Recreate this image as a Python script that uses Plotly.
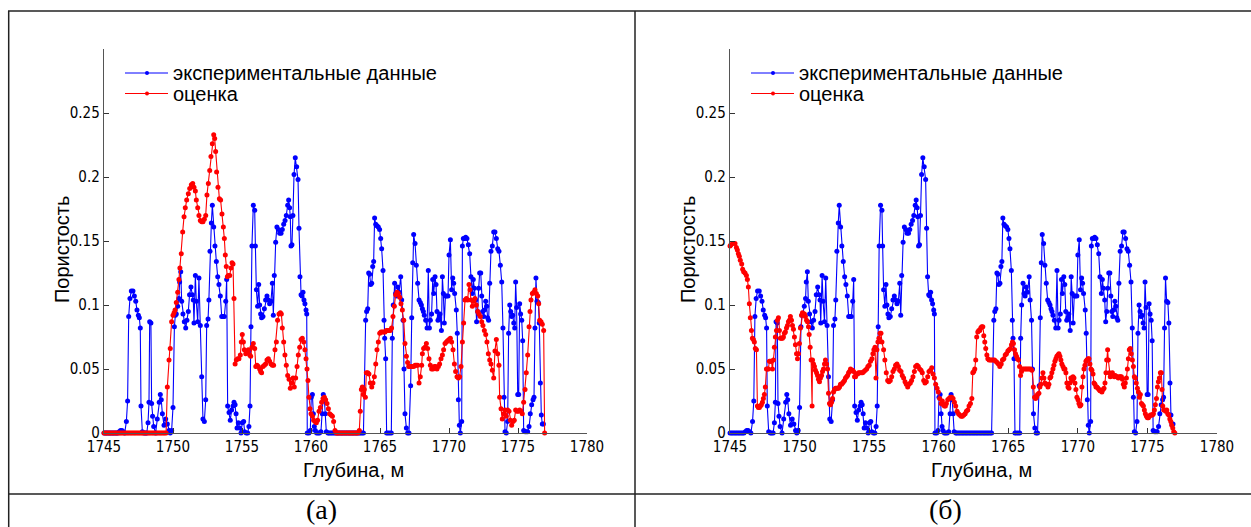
import plotly.graph_objects as go

W, H = 1251, 527

X_TICKS = [1745, 1750, 1755, 1760, 1765, 1770, 1775, 1780]
Y_TICKS = [0, 0.05, 0.1, 0.15, 0.2, 0.25, 0.3]
Y_TICK_TEXT = ["0", "0.05", "0.1", "0.15", "0.2", "0.25", ""]
LEGEND_NAMES = ["экспериментальные данные", "оценка"]
X_TITLE = "Глубина, м"
Y_TITLE = "Пористость"
PANEL_LABELS = ["(а)", "(б)"]

# experimental porosity (depth, value) - same in both panels
EXPERIMENT = [
    (1745.0, 0), (1745.1, 0), (1745.2, 0), (1745.3, 0), (1745.4, 0), (1745.5, 0), (1745.6, 0), (1745.7, 0),
    (1745.8, 0), (1745.9, 0), (1746.0, 0), (1746.1, 0.001), (1746.2, 0.002), (1746.3, 0.002), (1746.4, 0.001),
    (1746.5, 0), (1746.62, 0.009), (1746.71, 0.025), (1746.79, 0.091), (1746.88, 0.105), (1746.98, 0.111),
    (1747.1, 0.111), (1747.2, 0.107), (1747.3, 0.103), (1747.39, 0.096), (1747.49, 0.092), (1747.56, 0.09),
    (1747.63, 0.082), (1747.68, 0.021), (1747.78, 0.001), (1747.9, 0), (1748.0, 0), (1748.1, 0),
    (1748.19, 0.008), (1748.26, 0.024), (1748.31, 0.087), (1748.4, 0.086), (1748.45, 0.023), (1748.52, 0.013),
    (1748.6, 0.005), (1748.74, 0), (1748.86, 0.011), (1749.0, 0.024), (1749.08, 0.03), (1749.15, 0.026),
    (1749.23, 0.015), (1749.35, 0.006), (1749.47, 0.011), (1749.59, 0.007), (1749.71, 0.002), (1749.8, 0),
    (1749.9, 0.002), (1750.0, 0.02), (1750.1, 0.083), (1750.17, 0.092), (1750.24, 0.093), (1750.34, 0.099),
    (1750.43, 0.105), (1750.48, 0.118), (1750.56, 0.126), (1750.63, 0.103), (1750.72, 0.093), (1750.82, 0.087),
    (1750.92, 0.082), (1751.01, 0.088), (1751.11, 0.095), (1751.2, 0.108), (1751.3, 0.114), (1751.4, 0.108),
    (1751.47, 0.104), (1751.52, 0.086), (1751.62, 0.123), (1751.69, 0.103), (1751.79, 0.087), (1751.88, 0.121),
    (1751.98, 0.084), (1752.08, 0.044), (1752.17, 0.011), (1752.27, 0.009), (1752.37, 0.026), (1752.44, 0.084),
    (1752.54, 0.089), (1752.6, 0.104), (1752.68, 0.142), (1752.78, 0.164), (1752.85, 0.178), (1752.95, 0.161),
    (1753.04, 0.146), (1753.14, 0.134), (1753.24, 0.122), (1753.33, 0.116), (1753.43, 0.107), (1753.53, 0.091),
    (1753.62, 0.091), (1753.72, 0.091), (1753.82, 0.103), (1753.89, 0.12), (1753.96, 0.021), (1754.06, 0.016),
    (1754.15, 0.01), (1754.25, 0.018), (1754.35, 0.021), (1754.42, 0.024), (1754.5, 0.022), (1754.57, 0.015),
    (1754.64, 0.004), (1754.73, 0.008), (1754.83, 0.004), (1754.93, 0), (1755.02, 0.008), (1755.12, 0.009),
    (1755.19, 0.001), (1755.31, 0), (1755.41, 0), (1755.5, 0.005), (1755.58, 0.021), (1755.65, 0.083),
    (1755.72, 0.146), (1755.82, 0.178), (1755.92, 0.174), (1755.97, 0.146), (1756.04, 0.112), (1756.13, 0.099),
    (1756.21, 0.116), (1756.28, 0.1), (1756.35, 0.093), (1756.42, 0.09), (1756.52, 0.091), (1756.62, 0.097),
    (1756.71, 0.104), (1756.81, 0.107), (1756.91, 0.104), (1757.0, 0.101), (1757.1, 0.103), (1757.2, 0.117),
    (1757.27, 0.092), (1757.34, 0.123), (1757.44, 0.149), (1757.53, 0.161), (1757.63, 0.159), (1757.73, 0.156),
    (1757.83, 0.156), (1757.92, 0.159), (1758.02, 0.163), (1758.12, 0.166), (1758.21, 0.17), (1758.31, 0.178),
    (1758.38, 0.182), (1758.45, 0.176), (1758.5, 0.169), (1758.55, 0.146), (1758.62, 0.147), (1758.69, 0.17),
    (1758.77, 0.202), (1758.86, 0.215), (1758.96, 0.208), (1759.06, 0.198), (1759.13, 0.16), (1759.2, 0.122),
    (1759.28, 0.108), (1759.35, 0.107), (1759.42, 0.11), (1759.49, 0.104), (1759.56, 0.101), (1759.64, 0.096),
    (1759.69, 0.093), (1759.73, 0), (1759.85, 0), (1759.95, 0.002), (1760.02, 0.028), (1760.1, 0.03),
    (1760.17, 0.015), (1760.24, 0.005), (1760.31, 0.002), (1760.41, 0), (1760.51, 0), (1760.61, 0),
    (1760.72, 0.001), (1760.82, 0.015), (1760.89, 0.03), (1760.97, 0.026), (1761.04, 0.015), (1761.11, 0.001),
    (1761.23, 0), (1761.3, 0), (1761.4, 0), (1761.5, 0), (1761.6, 0), (1761.7, 0), (1761.8, 0), (1761.9, 0),
    (1762.0, 0), (1762.1, 0), (1762.2, 0), (1762.3, 0), (1762.4, 0), (1762.5, 0), (1762.6, 0), (1762.7, 0),
    (1762.8, 0), (1762.9, 0), (1763.0, 0), (1763.1, 0), (1763.2, 0), (1763.3, 0), (1763.4, 0), (1763.5, 0),
    (1763.6, 0), (1763.7, 0), (1763.8, 0), (1763.96, 0.088), (1764.03, 0.095), (1764.11, 0.097),
    (1764.18, 0.125), (1764.25, 0.124), (1764.32, 0.116), (1764.4, 0.117), (1764.47, 0.13), (1764.54, 0.134),
    (1764.61, 0.168), (1764.69, 0.163), (1764.78, 0.162), (1764.88, 0.161), (1764.97, 0.159), (1765.05, 0.152),
    (1765.12, 0.144), (1765.22, 0.127), (1765.29, 0.088), (1765.34, 0.074), (1765.41, 0.058), (1765.48, 0),
    (1765.58, 0), (1765.7, 0), (1765.82, 0), (1765.89, 0.074), (1765.96, 0.1), (1766.06, 0.117),
    (1766.13, 0.109), (1766.21, 0.107), (1766.28, 0.114), (1766.38, 0.11), (1766.5, 0.122), (1766.57, 0.104),
    (1766.67, 0.088), (1766.74, 0.05), (1766.81, 0.015), (1766.91, 0.004), (1767.0, 0), (1767.1, 0),
    (1767.22, 0.037), (1767.3, 0.09), (1767.37, 0.133), (1767.44, 0.155), (1767.54, 0.148), (1767.63, 0.131),
    (1767.73, 0.117), (1767.83, 0.104), (1767.92, 0.102), (1768.0, 0.1), (1768.07, 0.097), (1768.14, 0.095),
    (1768.21, 0.092), (1768.31, 0.088), (1768.41, 0.082), (1768.5, 0.127), (1768.58, 0.082), (1768.65, 0.088),
    (1768.74, 0.093), (1768.82, 0.12), (1768.89, 0.109), (1768.99, 0.122), (1769.06, 0.116), (1769.13, 0.095),
    (1769.2, 0.088), (1769.28, 0.09), (1769.35, 0.093), (1769.45, 0.08), (1769.52, 0.122), (1769.59, 0.109),
    (1769.66, 0.086), (1769.74, 0.107), (1769.83, 0.107), (1769.93, 0.107), (1770.0, 0.139), (1770.1, 0.151),
    (1770.19, 0.112), (1770.27, 0.121), (1770.34, 0.117), (1770.41, 0.109), (1770.53, 0.096), (1770.6, 0.078),
    (1770.68, 0.026), (1770.75, 0.006), (1770.82, 0), (1770.92, 0.009), (1770.97, 0.146), (1771.04, 0.152),
    (1771.13, 0.152), (1771.21, 0.153), (1771.3, 0.152), (1771.4, 0.147), (1771.5, 0.14), (1771.59, 0.122),
    (1771.69, 0.109), (1771.76, 0.12), (1771.84, 0.113), (1771.93, 0.104), (1772.0, 0.087), (1772.08, 0.095),
    (1772.15, 0.113), (1772.22, 0.125), (1772.3, 0.125), (1772.37, 0.107), (1772.44, 0.095), (1772.51, 0.091),
    (1772.58, 0.096), (1772.66, 0.103), (1772.73, 0.099), (1772.8, 0.09), (1772.87, 0.088), (1772.95, 0.117),
    (1773.04, 0.142), (1773.14, 0.146), (1773.24, 0.157), (1773.33, 0.157), (1773.43, 0.152), (1773.53, 0.144),
    (1773.62, 0.142), (1773.72, 0.131), (1773.82, 0.118), (1773.91, 0.082), (1773.99, 0.028), (1774.06, 0.001),
    (1774.15, 0), (1774.25, 0.009), (1774.32, 0.078), (1774.4, 0.1), (1774.47, 0.095), (1774.54, 0.091),
    (1774.61, 0.092), (1774.69, 0.086), (1774.76, 0.082), (1774.83, 0.118), (1774.9, 0.098), (1774.98, 0.03),
    (1775.05, 0.03), (1775.12, 0.101), (1775.19, 0.093), (1775.27, 0.088), (1775.34, 0.072), (1775.41, 0.002),
    (1775.51, 0.001), (1775.6, 0.001), (1775.7, 0.001), (1775.8, 0.005), (1775.89, 0.015), (1775.99, 0.022),
    (1776.09, 0.026), (1776.16, 0.028), (1776.23, 0.082), (1776.3, 0.121), (1776.38, 0.103), (1776.47, 0.102),
    (1776.54, 0.086), (1776.62, 0.039), (1776.69, 0.014), (1776.76, 0.007), (1776.84, 0.007),
]

# estimate, panel (а)
ESTIMATE_A = [
    (1745.0, 0), (1745.1, 0), (1745.2, 0), (1745.3, 0), (1745.4, 0), (1745.5, 0), (1745.6, 0), (1745.7, 0),
    (1745.8, 0), (1745.9, 0), (1746.0, 0), (1746.1, 0), (1746.2, 0), (1746.3, 0), (1746.4, 0), (1746.5, 0),
    (1746.6, 0), (1746.7, 0), (1746.8, 0), (1746.9, 0), (1747.0, 0), (1747.1, 0), (1747.2, 0), (1747.3, 0),
    (1747.4, 0), (1747.5, 0), (1747.6, 0), (1747.7, 0), (1747.8, 0), (1747.9, 0), (1748.0, 0), (1748.1, 0),
    (1748.2, 0), (1748.3, 0), (1748.4, 0), (1748.5, 0), (1748.6, 0), (1748.7, 0), (1748.8, 0), (1748.9, 0),
    (1749.0, 0), (1749.1, 0), (1749.2, 0), (1749.3, 0), (1749.4, 0), (1749.5, 0), (1749.59, 0.036),
    (1749.71, 0.057), (1749.8, 0.066), (1749.9, 0.087), (1750.0, 0.092), (1750.08, 0.094), (1750.15, 0.096),
    (1750.24, 0.102), (1750.34, 0.11), (1750.43, 0.12), (1750.5, 0.129), (1750.6, 0.14), (1750.7, 0.157),
    (1750.8, 0.169), (1750.89, 0.176), (1750.99, 0.182), (1751.11, 0.187), (1751.21, 0.191), (1751.33, 0.194),
    (1751.43, 0.195), (1751.52, 0.192), (1751.62, 0.189), (1751.69, 0.182), (1751.79, 0.176), (1751.88, 0.17),
    (1751.98, 0.166), (1752.08, 0.165), (1752.17, 0.165), (1752.27, 0.167), (1752.37, 0.17), (1752.46, 0.186),
    (1752.56, 0.195), (1752.66, 0.205), (1752.75, 0.216), (1752.85, 0.226), (1752.95, 0.233), (1753.02, 0.23),
    (1753.09, 0.22), (1753.16, 0.204), (1753.26, 0.192), (1753.36, 0.183), (1753.45, 0.182), (1753.55, 0.171),
    (1753.65, 0.161), (1753.72, 0.152), (1753.79, 0.139), (1753.86, 0.13), (1753.94, 0.122), (1754.0, 0.123),
    (1754.11, 0.123), (1754.2, 0.129), (1754.28, 0.133), (1754.35, 0.132), (1754.42, 0.105), (1754.5, 0.054),
    (1754.59, 0.057), (1754.69, 0.058), (1754.78, 0.058), (1754.88, 0.061), (1754.95, 0.071), (1755.02, 0.077),
    (1755.1, 0.071), (1755.17, 0.065), (1755.27, 0.062), (1755.37, 0.063), (1755.46, 0.065), (1755.56, 0.061),
    (1755.63, 0.06), (1755.72, 0.067), (1755.82, 0.07), (1755.92, 0.066), (1756.0, 0.052), (1756.09, 0.053),
    (1756.18, 0.052), (1756.28, 0.05), (1756.35, 0.048), (1756.42, 0.047), (1756.52, 0.052), (1756.62, 0.053),
    (1756.71, 0.054), (1756.81, 0.057), (1756.91, 0.058), (1757.0, 0.056), (1757.1, 0.054), (1757.2, 0.053),
    (1757.29, 0.053), (1757.39, 0.065), (1757.49, 0.071), (1757.58, 0.088), (1757.68, 0.093), (1757.78, 0.094),
    (1757.85, 0.093), (1757.92, 0.082), (1758.02, 0.071), (1758.11, 0.061), (1758.21, 0.053), (1758.31, 0.045),
    (1758.41, 0.042), (1758.5, 0.035), (1758.6, 0.039), (1758.7, 0.043), (1758.79, 0.036), (1758.89, 0.043),
    (1758.99, 0.052), (1759.08, 0.061), (1759.18, 0.067), (1759.28, 0.073), (1759.37, 0.074), (1759.47, 0.071),
    (1759.56, 0.065), (1759.64, 0.058), (1759.71, 0.05), (1759.78, 0.041), (1759.85, 0.028), (1759.93, 0.019),
    (1760.0, 0.015), (1760.1, 0.013), (1760.19, 0.01), (1760.29, 0.009), (1760.39, 0.008), (1760.48, 0.01),
    (1760.58, 0.017), (1760.68, 0.02), (1760.77, 0.024), (1760.87, 0.027), (1760.97, 0.028), (1761.06, 0.026),
    (1761.16, 0.023), (1761.26, 0.019), (1761.35, 0.015), (1761.45, 0.014), (1761.55, 0.013), (1761.64, 0.009),
    (1761.74, 0.002), (1761.84, 0), (1761.9, 0), (1762.0, 0), (1762.1, 0), (1762.2, 0), (1762.3, 0),
    (1762.4, 0), (1762.5, 0), (1762.6, 0), (1762.7, 0), (1762.8, 0), (1762.9, 0), (1763.0, 0), (1763.1, 0),
    (1763.2, 0), (1763.3, 0), (1763.4, 0), (1763.5, 0.002), (1763.57, 0.017), (1763.65, 0.034),
    (1763.72, 0.036), (1763.79, 0.03), (1763.86, 0.034), (1763.94, 0.028), (1764.01, 0.047), (1764.11, 0.047),
    (1764.2, 0.046), (1764.3, 0.039), (1764.4, 0.036), (1764.49, 0.039), (1764.59, 0.044), (1764.69, 0.054),
    (1764.78, 0.065), (1764.88, 0.071), (1764.98, 0.078), (1765.07, 0.079), (1765.17, 0.079), (1765.27, 0.079),
    (1765.36, 0.079), (1765.46, 0.08), (1765.56, 0.08), (1765.65, 0.08), (1765.75, 0.08), (1765.84, 0.082),
    (1765.94, 0.091), (1766.04, 0.099), (1766.14, 0.108), (1766.23, 0.11), (1766.33, 0.109), (1766.43, 0.106),
    (1766.52, 0.101), (1766.62, 0.096), (1766.72, 0.088), (1766.81, 0.07), (1766.91, 0.06), (1767.0, 0.055),
    (1767.08, 0.052), (1767.15, 0.052), (1767.25, 0.052), (1767.34, 0.052), (1767.44, 0.052), (1767.54, 0.053),
    (1767.63, 0.053), (1767.73, 0.053), (1767.83, 0.039), (1767.92, 0.044), (1768.02, 0.053), (1768.07, 0.062),
    (1768.16, 0.066), (1768.26, 0.067), (1768.36, 0.07), (1768.45, 0.066), (1768.55, 0.058), (1768.65, 0.053),
    (1768.74, 0.05), (1768.84, 0.05), (1768.94, 0.052), (1769.03, 0.052), (1769.13, 0.05), (1769.23, 0.052),
    (1769.32, 0.054), (1769.42, 0.058), (1769.52, 0.061), (1769.61, 0.065), (1769.71, 0.07), (1769.81, 0.071),
    (1769.9, 0.072), (1770.0, 0.073), (1770.1, 0.074), (1770.19, 0.071), (1770.29, 0.065), (1770.39, 0.054),
    (1770.48, 0.048), (1770.58, 0.044), (1770.68, 0.043), (1770.77, 0.044), (1770.87, 0.052), (1770.97, 0.071),
    (1771.06, 0.086), (1771.16, 0.104), (1771.26, 0.105), (1771.35, 0.104), (1771.45, 0.116), (1771.52, 0.112),
    (1771.59, 0.104), (1771.69, 0.099), (1771.79, 0.103), (1771.88, 0.105), (1771.98, 0.1), (1772.08, 0.095),
    (1772.17, 0.093), (1772.27, 0.091), (1772.37, 0.087), (1772.46, 0.084), (1772.56, 0.08), (1772.66, 0.077),
    (1772.75, 0.071), (1772.85, 0.062), (1772.95, 0.057), (1773.04, 0.054), (1773.14, 0.049), (1773.24, 0.043),
    (1773.33, 0.064), (1773.43, 0.073), (1773.53, 0.062), (1773.62, 0.053), (1773.67, 0.028), (1773.77, 0.019),
    (1773.86, 0.011), (1773.96, 0.015), (1774.06, 0.018), (1774.15, 0.013), (1774.25, 0.018), (1774.35, 0.017),
    (1774.44, 0.01), (1774.54, 0.006), (1774.64, 0.009), (1774.73, 0.01), (1774.83, 0.018), (1774.93, 0.017),
    (1775.02, 0.017), (1775.12, 0.018), (1775.22, 0.017), (1775.31, 0.015), (1775.41, 0.024), (1775.51, 0.034),
    (1775.6, 0.047), (1775.7, 0.061), (1775.8, 0.083), (1775.87, 0.095), (1775.94, 0.104), (1776.04, 0.109),
    (1776.14, 0.11), (1776.23, 0.112), (1776.33, 0.109), (1776.43, 0.107), (1776.5, 0.101), (1776.57, 0.088),
    (1776.67, 0.087), (1776.76, 0.085), (1776.86, 0.08), (1776.93, 0),
]

# estimate, panel (б)
ESTIMATE_B = [
    (1745.0, 0.146), (1745.07, 0.147), (1745.2, 0.148), (1745.36, 0.148), (1745.46, 0.145), (1745.53, 0.143),
    (1745.6, 0.14), (1745.67, 0.138), (1745.74, 0.135), (1745.84, 0.132), (1745.91, 0.128), (1745.98, 0.126),
    (1746.08, 0.125), (1746.18, 0.123), (1746.25, 0.12), (1746.32, 0.114), (1746.39, 0.101), (1746.46, 0.09),
    (1746.54, 0.08), (1746.61, 0.074), (1746.68, 0.073), (1746.75, 0.071), (1746.82, 0.066), (1746.9, 0.065),
    (1746.97, 0.021), (1747.04, 0.02), (1747.11, 0.02), (1747.18, 0.021), (1747.26, 0.022), (1747.33, 0.024),
    (1747.4, 0.027), (1747.47, 0.03), (1747.54, 0.036), (1747.62, 0.05), (1747.69, 0.05), (1747.76, 0.05),
    (1747.83, 0.056), (1747.9, 0.056), (1747.98, 0.056), (1748.05, 0.05), (1748.12, 0.057), (1748.19, 0.067),
    (1748.26, 0.075), (1748.34, 0.08), (1748.41, 0.088), (1748.48, 0.09), (1748.55, 0.08), (1748.62, 0.074),
    (1748.7, 0.074), (1748.77, 0.074), (1748.84, 0.075), (1748.91, 0.078), (1748.98, 0.079), (1749.06, 0.082),
    (1749.13, 0.084), (1749.2, 0.087), (1749.27, 0.088), (1749.34, 0.091), (1749.42, 0.088), (1749.49, 0.084),
    (1749.56, 0.081), (1749.63, 0.075), (1749.7, 0.069), (1749.78, 0.062), (1749.85, 0.058), (1749.92, 0.062),
    (1749.99, 0.07), (1750.06, 0.082), (1750.14, 0.092), (1750.21, 0.094), (1750.28, 0.093), (1750.35, 0.093),
    (1750.42, 0.091), (1750.5, 0.088), (1750.57, 0.087), (1750.64, 0.083), (1750.69, 0.077), (1750.76, 0.067),
    (1750.83, 0.057), (1750.9, 0.021), (1750.93, 0.057), (1751.0, 0.054), (1751.07, 0.052), (1751.14, 0.049),
    (1751.22, 0.047), (1751.29, 0.045), (1751.36, 0.042), (1751.43, 0.04), (1751.5, 0.043), (1751.58, 0.045),
    (1751.65, 0.048), (1751.72, 0.05), (1751.79, 0.054), (1751.86, 0.057), (1751.94, 0.054), (1752.01, 0.05),
    (1752.08, 0.031), (1752.15, 0.023), (1752.22, 0.022), (1752.3, 0.024), (1752.37, 0.027), (1752.44, 0.032),
    (1752.51, 0.034), (1752.58, 0.035), (1752.66, 0.035), (1752.73, 0.035), (1752.8, 0.035), (1752.87, 0.036),
    (1752.94, 0.038), (1753.02, 0.038), (1753.09, 0.039), (1753.16, 0.04), (1753.23, 0.041), (1753.3, 0.043),
    (1753.38, 0.044), (1753.45, 0.045), (1753.52, 0.047), (1753.59, 0.048), (1753.66, 0.05), (1753.74, 0.049),
    (1753.81, 0.049), (1753.88, 0.048), (1753.95, 0.044), (1754.02, 0.044), (1754.1, 0.046), (1754.17, 0.046),
    (1754.24, 0.047), (1754.34, 0.047), (1754.43, 0.047), (1754.53, 0.047), (1754.62, 0.048), (1754.72, 0.049),
    (1754.82, 0.05), (1754.91, 0.052), (1755.0, 0.053), (1755.1, 0.056), (1755.2, 0.058), (1755.27, 0.062),
    (1755.34, 0.065), (1755.42, 0.067), (1755.49, 0.043), (1755.56, 0.065), (1755.63, 0.071), (1755.7, 0.074),
    (1755.78, 0.078), (1755.85, 0.078), (1755.92, 0.071), (1756.04, 0.065), (1756.13, 0.057), (1756.23, 0.047),
    (1756.33, 0.041), (1756.42, 0.04), (1756.52, 0.041), (1756.62, 0.044), (1756.71, 0.048), (1756.81, 0.05),
    (1756.9, 0.053), (1757.0, 0.054), (1757.1, 0.052), (1757.19, 0.049), (1757.29, 0.048), (1757.38, 0.045),
    (1757.48, 0.043), (1757.58, 0.04), (1757.67, 0.038), (1757.77, 0.036), (1757.86, 0.038), (1757.96, 0.039),
    (1758.05, 0.041), (1758.15, 0.044), (1758.25, 0.048), (1758.34, 0.052), (1758.44, 0.053), (1758.53, 0.052),
    (1758.63, 0.05), (1758.73, 0.049), (1758.82, 0.047), (1758.92, 0.041), (1759.01, 0.039), (1759.11, 0.04),
    (1759.21, 0.044), (1759.3, 0.048), (1759.4, 0.049), (1759.5, 0.051), (1759.59, 0.046), (1759.69, 0.043),
    (1759.78, 0.038), (1759.88, 0.035), (1759.97, 0.032), (1760.07, 0.027), (1760.17, 0.023), (1760.26, 0.025),
    (1760.33, 0.022), (1760.41, 0.021), (1760.48, 0.021), (1760.55, 0.023), (1760.65, 0.026), (1760.74, 0.027),
    (1760.84, 0.028), (1760.94, 0.028), (1761.03, 0.027), (1761.13, 0.024), (1761.22, 0.021), (1761.32, 0.017),
    (1761.42, 0.015), (1761.51, 0.014), (1761.61, 0.013), (1761.7, 0.013), (1761.8, 0.014), (1761.9, 0.015),
    (1761.99, 0.017), (1762.09, 0.018), (1762.18, 0.021), (1762.28, 0.023), (1762.38, 0.027), (1762.45, 0.047),
    (1762.52, 0.048), (1762.59, 0.05), (1762.66, 0.057), (1762.73, 0.075), (1762.81, 0.079), (1762.88, 0.08),
    (1762.95, 0.08), (1763.02, 0.082), (1763.09, 0.083), (1763.17, 0.083), (1763.24, 0.076), (1763.31, 0.071),
    (1763.38, 0.066), (1763.46, 0.061), (1763.53, 0.058), (1763.62, 0.057), (1763.72, 0.057), (1763.81, 0.057),
    (1763.91, 0.057), (1764.01, 0.057), (1764.1, 0.056), (1764.2, 0.055), (1764.29, 0.054), (1764.39, 0.052),
    (1764.49, 0.054), (1764.58, 0.057), (1764.68, 0.058), (1764.78, 0.061), (1764.87, 0.062), (1764.97, 0.064),
    (1765.06, 0.065), (1765.16, 0.066), (1765.23, 0.069), (1765.3, 0.071), (1765.37, 0.07), (1765.45, 0.065),
    (1765.52, 0.062), (1765.59, 0.06), (1765.66, 0.058), (1765.73, 0.057), (1765.81, 0.052), (1765.88, 0.045),
    (1765.95, 0.048), (1766.02, 0.05), (1766.12, 0.05), (1766.22, 0.05), (1766.31, 0.05), (1766.41, 0.05),
    (1766.5, 0.05), (1766.6, 0.05), (1766.7, 0.049), (1766.8, 0.036), (1766.89, 0.028), (1766.96, 0.027),
    (1767.03, 0.028), (1767.1, 0.03), (1767.2, 0.031), (1767.27, 0.036), (1767.34, 0.038), (1767.41, 0.043),
    (1767.49, 0.047), (1767.56, 0.043), (1767.63, 0.039), (1767.7, 0.038), (1767.78, 0.038), (1767.85, 0.036),
    (1767.92, 0.038), (1767.99, 0.043), (1768.06, 0.044), (1768.13, 0.047), (1768.21, 0.05), (1768.28, 0.053),
    (1768.35, 0.056), (1768.42, 0.058), (1768.49, 0.06), (1768.57, 0.061), (1768.64, 0.062), (1768.71, 0.06),
    (1768.78, 0.057), (1768.85, 0.054), (1768.93, 0.052), (1769.0, 0.05), (1769.07, 0.05), (1769.14, 0.047),
    (1769.21, 0.039), (1769.29, 0.036), (1769.36, 0.035), (1769.43, 0.039), (1769.5, 0.043), (1769.57, 0.041),
    (1769.65, 0.044), (1769.72, 0.043), (1769.79, 0.039), (1769.86, 0.034), (1769.93, 0.028), (1770.01, 0.026),
    (1770.08, 0.023), (1770.15, 0.021), (1770.22, 0.022), (1770.29, 0.036), (1770.37, 0.044), (1770.44, 0.05),
    (1770.51, 0.053), (1770.58, 0.056), (1770.65, 0.057), (1770.73, 0.058), (1770.8, 0.058), (1770.87, 0.054),
    (1770.94, 0.05), (1771.01, 0.049), (1771.09, 0.046), (1771.16, 0.039), (1771.23, 0.038), (1771.3, 0.036),
    (1771.37, 0.036), (1771.45, 0.035), (1771.52, 0.034), (1771.59, 0.033), (1771.66, 0.033), (1771.73, 0.032),
    (1771.81, 0.034), (1771.88, 0.035), (1771.95, 0.039), (1772.02, 0.047), (1772.07, 0.057), (1772.14, 0.065),
    (1772.19, 0.057), (1772.26, 0.047), (1772.33, 0.044), (1772.41, 0.045), (1772.48, 0.047), (1772.55, 0.045),
    (1772.62, 0.044), (1772.69, 0.045), (1772.77, 0.044), (1772.84, 0.044), (1772.91, 0.043), (1772.98, 0.044),
    (1773.05, 0.044), (1773.13, 0.044), (1773.2, 0.042), (1773.27, 0.038), (1773.34, 0.036), (1773.41, 0.039),
    (1773.49, 0.043), (1773.56, 0.05), (1773.63, 0.058), (1773.7, 0.065), (1773.77, 0.066), (1773.84, 0.062),
    (1773.92, 0.057), (1773.99, 0.052), (1774.06, 0.044), (1774.13, 0.043), (1774.2, 0.039), (1774.28, 0.035),
    (1774.35, 0.032), (1774.42, 0.028), (1774.49, 0.03), (1774.57, 0.023), (1774.64, 0.022), (1774.71, 0.021),
    (1774.78, 0.018), (1774.85, 0.015), (1774.93, 0.013), (1775.0, 0.012), (1775.07, 0.012), (1775.14, 0.013),
    (1775.21, 0.014), (1775.29, 0.014), (1775.36, 0.014), (1775.43, 0.015), (1775.5, 0.018), (1775.57, 0.022),
    (1775.65, 0.027), (1775.72, 0.036), (1775.79, 0.04), (1775.86, 0.043), (1775.93, 0.047), (1776.0, 0.047),
    (1776.05, 0.034), (1776.1, 0.021), (1776.17, 0.018), (1776.24, 0.018), (1776.32, 0.017), (1776.39, 0.018),
    (1776.46, 0.015), (1776.53, 0.014), (1776.61, 0.011), (1776.68, 0.009), (1776.75, 0.006), (1776.82, 0.004),
    (1776.89, 0.001), (1776.97, 0),
]

BLUE = "#0000ff"
RED = "#ff0000"
TICK_FONT = dict(family="Liberation Sans Narrow, DejaVu Sans Condensed, Arial Narrow, sans-serif", size=15, color="#000")
TEXT_FONT = "Liberation Sans, Arial, sans-serif"
TEXT_SIZE = 20


def px(x):
    """page pixel x -> paper fraction"""
    return x / W


def py(y):
    """page pixel y -> paper fraction"""
    return 1 - y / H


def series(pairs, color, xa, ya, name):
    return go.Scatter(
        x=[p[0] for p in pairs], y=[p[1] for p in pairs], mode="lines+markers", name=name,
        line=dict(color=color, width=1.1), marker=dict(color=color, size=5, symbol="circle"),
        xaxis=xa, yaxis=ya, cliponaxis=False, showlegend=False, hoverinfo="skip",
    )


fig = go.Figure()
fig.add_trace(series(EXPERIMENT, BLUE, "x", "y", LEGEND_NAMES[0]))
fig.add_trace(series(ESTIMATE_A, RED, "x", "y", LEGEND_NAMES[1]))
fig.add_trace(series(EXPERIMENT, BLUE, "x2", "y2", LEGEND_NAMES[0]))
fig.add_trace(series(ESTIMATE_B, RED, "x2", "y2", LEGEND_NAMES[1]))

panels = [(104, 587), (730, 1217)]
y_dom = [py(433), py(49)]

axis_common = dict(showgrid=False, zeroline=False, showline=True, linecolor="#555", linewidth=1.2,
                   ticks="inside", ticklen=5, tickcolor="#333", tickwidth=1, tickfont=TICK_FONT,
                   mirror=False, fixedrange=True, automargin=False)

fig.update_layout(
    template="none",
    width=W, height=H, margin=dict(l=0, r=0, t=0, b=0, pad=0, autoexpand=False),
    paper_bgcolor="white", plot_bgcolor="white", showlegend=False,
    xaxis=dict(domain=[px(panels[0][0]), px(panels[0][1])], range=[1745, 1780], tickvals=X_TICKS,
               anchor="y", **axis_common),
    yaxis=dict(domain=y_dom, range=[0, 0.3], tickvals=Y_TICKS, ticktext=Y_TICK_TEXT, anchor="x",
               **axis_common),
    xaxis2=dict(domain=[px(panels[1][0]), px(panels[1][1])], range=[1745, 1780], tickvals=X_TICKS,
                anchor="y2", **axis_common),
    yaxis2=dict(domain=y_dom, range=[0, 0.3], tickvals=Y_TICKS, ticktext=Y_TICK_TEXT, anchor="x2",
                **axis_common),
)

shapes = []
annotations = []
frame = dict(color="#222", width=1.5)
# table frame (open on the right and at the bottom, as in the source)
shapes.append(dict(type="line", xref="paper", yref="paper", x0=px(8), x1=1, y0=py(11), y1=py(11), line=frame))
shapes.append(dict(type="line", xref="paper", yref="paper", x0=px(8), x1=1, y0=py(494), y1=py(494), line=frame))
for xv in (8.7, 635):
    shapes.append(dict(type="line", xref="paper", yref="paper", x0=px(xv), x1=px(xv), y0=py(11), y1=0, line=frame))

for i, (x0, x1) in enumerate(panels):
    off = x0 - 104
    # legend
    for j, (name, col) in enumerate(zip(LEGEND_NAMES, [BLUE, RED])):
        yy = 73 + 20.5 * j
        shapes.append(dict(type="line", xref="paper", yref="paper", x0=px(125 + off), x1=px(168 + off),
                           y0=py(yy), y1=py(yy), line=dict(color=col, width=1)))
        shapes.append(dict(type="circle", xref="paper", yref="paper", x0=px(145 + off), x1=px(149 + off),
                           y0=py(yy + 2), y1=py(yy - 2), fillcolor=col, line=dict(color=col, width=0)))
        annotations.append(dict(text=name, xref="paper", yref="paper", x=px(171 + off), y=py(yy),
                                xanchor="left", yanchor="middle", showarrow=False,
                                font=dict(family=TEXT_FONT, size=TEXT_SIZE, color="#000")))
    # axis titles
    annotations.append(dict(text=X_TITLE, xref="paper", yref="paper", x=px((x0 + x1) / 2 + 8), y=py(470),
                            xanchor="center", yanchor="middle", showarrow=False,
                            font=dict(family=TEXT_FONT, size=TEXT_SIZE, color="#000")))
    annotations.append(dict(text=Y_TITLE, xref="paper", yref="paper", x=px(62 + off), y=py(250),
                            xanchor="center", yanchor="middle", showarrow=False, textangle=-90,
                            font=dict(family=TEXT_FONT, size=TEXT_SIZE, color="#000")))
    annotations.append(dict(text=PANEL_LABELS[i], xref="paper", yref="paper", x=px(322 + 623 * i), y=py(509),
                            xanchor="center", yanchor="middle", showarrow=False,
                            font=dict(family="Liberation Serif, DejaVu Serif, serif", size=28, color="#000")))

fig.update_layout(shapes=shapes, annotations=annotations)
fig.write_html(
    "out.html",
    config={"displayModeBar": False, "staticPlot": True},
    post_script="document.documentElement.style.overflow='hidden';"
                "document.body.style.margin='0';document.body.style.overflow='hidden';",
)
